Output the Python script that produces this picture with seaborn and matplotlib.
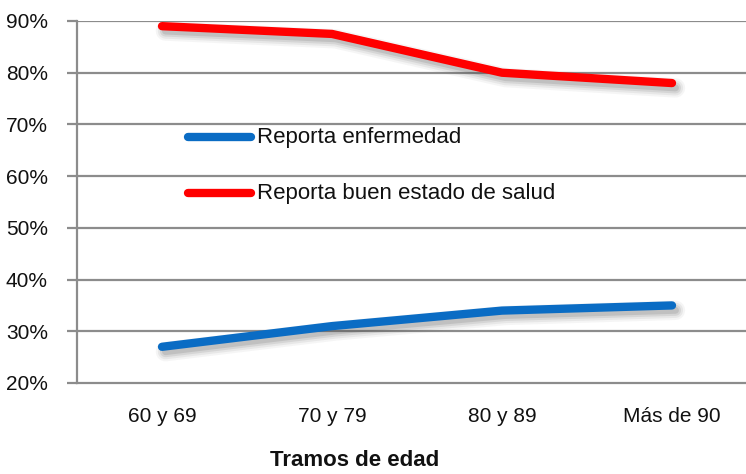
import matplotlib
matplotlib.use("Agg")
import matplotlib.pyplot as plt
import matplotlib.patheffects as pe
from matplotlib.ticker import PercentFormatter
import seaborn as sns
import pandas as pd

categories = ["60 y 69", "70 y 79", "80 y 89", "Más de 90"]
enfermedad = [27.0, 31.0, 34.0, 35.0]
buen_estado = [89.0, 87.5, 80.0, 78.0]
series_names = ["Reporta enfermedad", "Reporta buen estado de salud"]
y_ticks = [20, 30, 40, 50, 60, 70, 80, 90]

df = pd.DataFrame({
    "tramo": categories * 2,
    "pos": list(range(len(categories))) * 2,
    "valor": enfermedad + buen_estado,
    "serie": [series_names[0]] * len(categories) + [series_names[1]] * len(categories),
})

sns.set_theme(style="white")
plt.rcParams["font.family"] = ["Liberation Sans", "DejaVu Sans"]

W, H = 746, 474
fig = plt.figure(figsize=(W / 100, H / 100), dpi=100)
left, right, top, bottom = 77, 757, 21, 383
ax = fig.add_axes([left / W, 1 - bottom / H, (right - left) / W, (bottom - top) / H])

grid_col = "#8c8c8c"
for y in y_ticks[1:]:
    ax.axhline(y, color=grid_col, lw=1.6, zorder=0)

palette = {series_names[0]: "#0a6cc4", series_names[1]: "#ff0000"}
sns.lineplot(data=df, x="pos", y="valor", hue="serie", palette=palette,
             lw=6.0, ax=ax, legend=False, zorder=3)

# soft drop shadow built from several wide, faint strokes
shadow = [pe.SimpleLineShadow(offset=(2.5, -3.5), shadow_color="#4a4a4a", alpha=a,
                              rho=1.0, linewidth=w)
          for w, a in [(14, 0.05), (11, 0.08), (8, 0.11), (5, 0.15)]]
shadow.append(pe.Normal())
for line in ax.get_lines():
    if line.get_linewidth() > 3:
        line.set_path_effects(shadow)
        line.set_solid_capstyle("round")

ax.set_xlim(-0.5, len(categories) - 0.5)
ax.set_ylim(20, 90)
ax.set_yticks(y_ticks)
ax.yaxis.set_major_formatter(PercentFormatter(decimals=0))
ax.set_xticks(range(len(categories)))
ax.set_xticklabels(categories)
ax.set_xticks([i + 0.5 for i in range(-1, len(categories))], minor=True)
ax.tick_params(axis="x", which="major", length=0, pad=17, labelsize=15, colors="#111111")
ax.tick_params(axis="x", which="minor", length=6, width=1.6, color=grid_col, direction="out")
ax.tick_params(axis="y", length=7, width=1.6, color=grid_col, pad=14, labelsize=15,
               labelcolor="#111111", left=True)
ax.set_xlabel("")
ax.set_ylabel("")

for s in ["top", "right"]:
    ax.spines[s].set_visible(False)
for s in ["left", "bottom"]:
    ax.spines[s].set_color(grid_col)
    ax.spines[s].set_linewidth(1.6)
ax.spines["left"].set_zorder(1)

# legend drawn as handles inside the plot area
leg_x0, leg_x1 = 188 / W, 251 / W
for name, ypix in zip(series_names, [137, 193]):
    yf = 1 - ypix / H
    fig.add_artist(plt.Line2D([leg_x0, leg_x1], [yf, yf], color=palette[name], lw=6.0,
                              solid_capstyle="round", transform=fig.transFigure))
    fig.text(257 / W, yf, name, fontsize=16, va="center", ha="left", color="#111111")

fig.text(355 / W, 1 - 461 / H, "Tramos de edad", fontsize=16, fontweight="bold",
         ha="center", va="center", color="#111111")

fig.savefig("out.png", dpi=100)
